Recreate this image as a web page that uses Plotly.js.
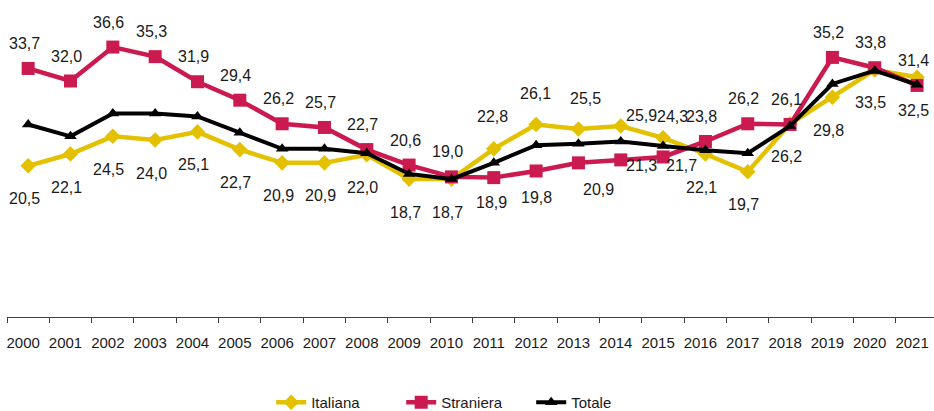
<!DOCTYPE html>
<html>
<head>
<meta charset="utf-8">
<script src="https://cdn.plot.ly/plotly-3.0.1.min.js"></script>
<style>html,body{margin:0;padding:0;background:#fff;}#chart{width:934px;height:411px;}</style>
</head>
<body>
<div id="chart"></div>
<script>
// ---- data ----
const years = ['2000','2001','2002','2003','2004','2005','2006','2007','2008','2009','2010',
               '2011','2012','2013','2014','2015','2016','2017','2018','2019','2020','2021'];
const italiana  = [20.5,22.1,24.5,24.0,25.1,22.7,20.9,20.9,22.0,18.7,18.7,
                   22.8,26.1,25.5,25.9,24.3,22.1,19.7,26.2,29.8,33.5,32.5];
const straniera = [33.7,32.0,36.6,35.3,31.9,29.4,26.2,25.7,22.7,20.6,19.0,
                   18.9,19.8,20.9,21.3,21.7,23.8,26.2,26.1,35.2,33.8,31.4];
const totale    = [26.1,24.5,27.6,27.6,27.2,25.0,22.8,22.8,22.2,19.4,18.7,
                   20.9,23.3,23.5,23.8,23.2,22.6,22.2,25.9,31.6,33.4,31.5];

// ---- label placement (screen px: [dx, dy], dy positive = down) ----
const italianaDefault = [-4, 33];
const italianaShift = {'2011':[-1,-32],'2012':[-1,-31],'2013':[7,-30],'2014':[21,-10],'2015':[9,-21.5]};
const stranieraDefault = [-4, -25];
const stranieraShift = {'2011':[-2,24.5],'2012':[0,26.5],'2013':[20,27],'2014':[21,6],'2015':[18,9]};

const FONT = 'Liberation Sans, Arial, sans-serif';
const colIt = '#E3C100', colSt = '#CB1A50', colTo = '#000000';

function fmt(v){ return v.toFixed(1).replace('.', ','); }

const annotations = [];
function addLabels(vals, def, shifts){
  vals.forEach((v,i)=>{
    const s = shifts[years[i]] || def;
    annotations.push({x: i, y: v, xref:'x', yref:'y', text: fmt(v), showarrow:false,
      xanchor:'center', yanchor:'middle',
      xshift: s[0], yshift: -s[1], font:{family:FONT, size:16, color:'#1a1a1a'}});
  });
}
addLabels(italiana, italianaDefault, italianaShift);
addLabels(straniera, stranieraDefault, stranieraShift);

const traces = [
  {x: years, y: italiana, name:'Italiana', type:'scatter', mode:'lines+markers',
   line:{color:colIt, width:4.5}, marker:{symbol:'diamond', size:12, color:colIt}, cliponaxis:false},
  {x: years, y: straniera, name:'Straniera', type:'scatter', mode:'lines+markers',
   line:{color:colSt, width:4.5}, marker:{symbol:'square', size:13, color:colSt}, cliponaxis:false},
  {x: years, y: totale, name:'Totale', type:'scatter', mode:'lines+markers',
   line:{color:colTo, width:4}, marker:{symbol:'triangle-up', size:11, color:colTo}, cliponaxis:false}
];

const layout = {
  width: 934, height: 411,
  margin: {l:7, r:0, t:22, b:94, autoexpand:false},
  paper_bgcolor:'#fff', plot_bgcolor:'#fff',
  showlegend: true,
  legend: {orientation:'h', x:0.285, xanchor:'left', y:-0.29, yanchor:'middle',
           entrywidth:85, entrywidthmode:'pixels',
           font:{family:FONT, size:15, color:'#1a1a1a'}, traceorder:'normal'},
  xaxis: {type:'category', range:[-0.5, 21.4], showgrid:false, zeroline:false,
          showline:true, linecolor:'#404040', linewidth:1,
          ticks:'outside', ticklen:5, tickcolor:'#404040', tickson:'boundaries',
          ticklabelshift:-5, ticklabelstandoff:12, tickangle:0,
          tickfont:{family:FONT, size:15, color:'#1a1a1a'}, fixedrange:true},
  yaxis: {range:[0,40], showgrid:false, zeroline:false, showline:false, ticks:'',
          showticklabels:false, fixedrange:true},
  annotations: annotations
};

Plotly.newPlot('chart', traces, layout, {displayModeBar:false, staticPlot:true});
</script>
</body>
</html>
